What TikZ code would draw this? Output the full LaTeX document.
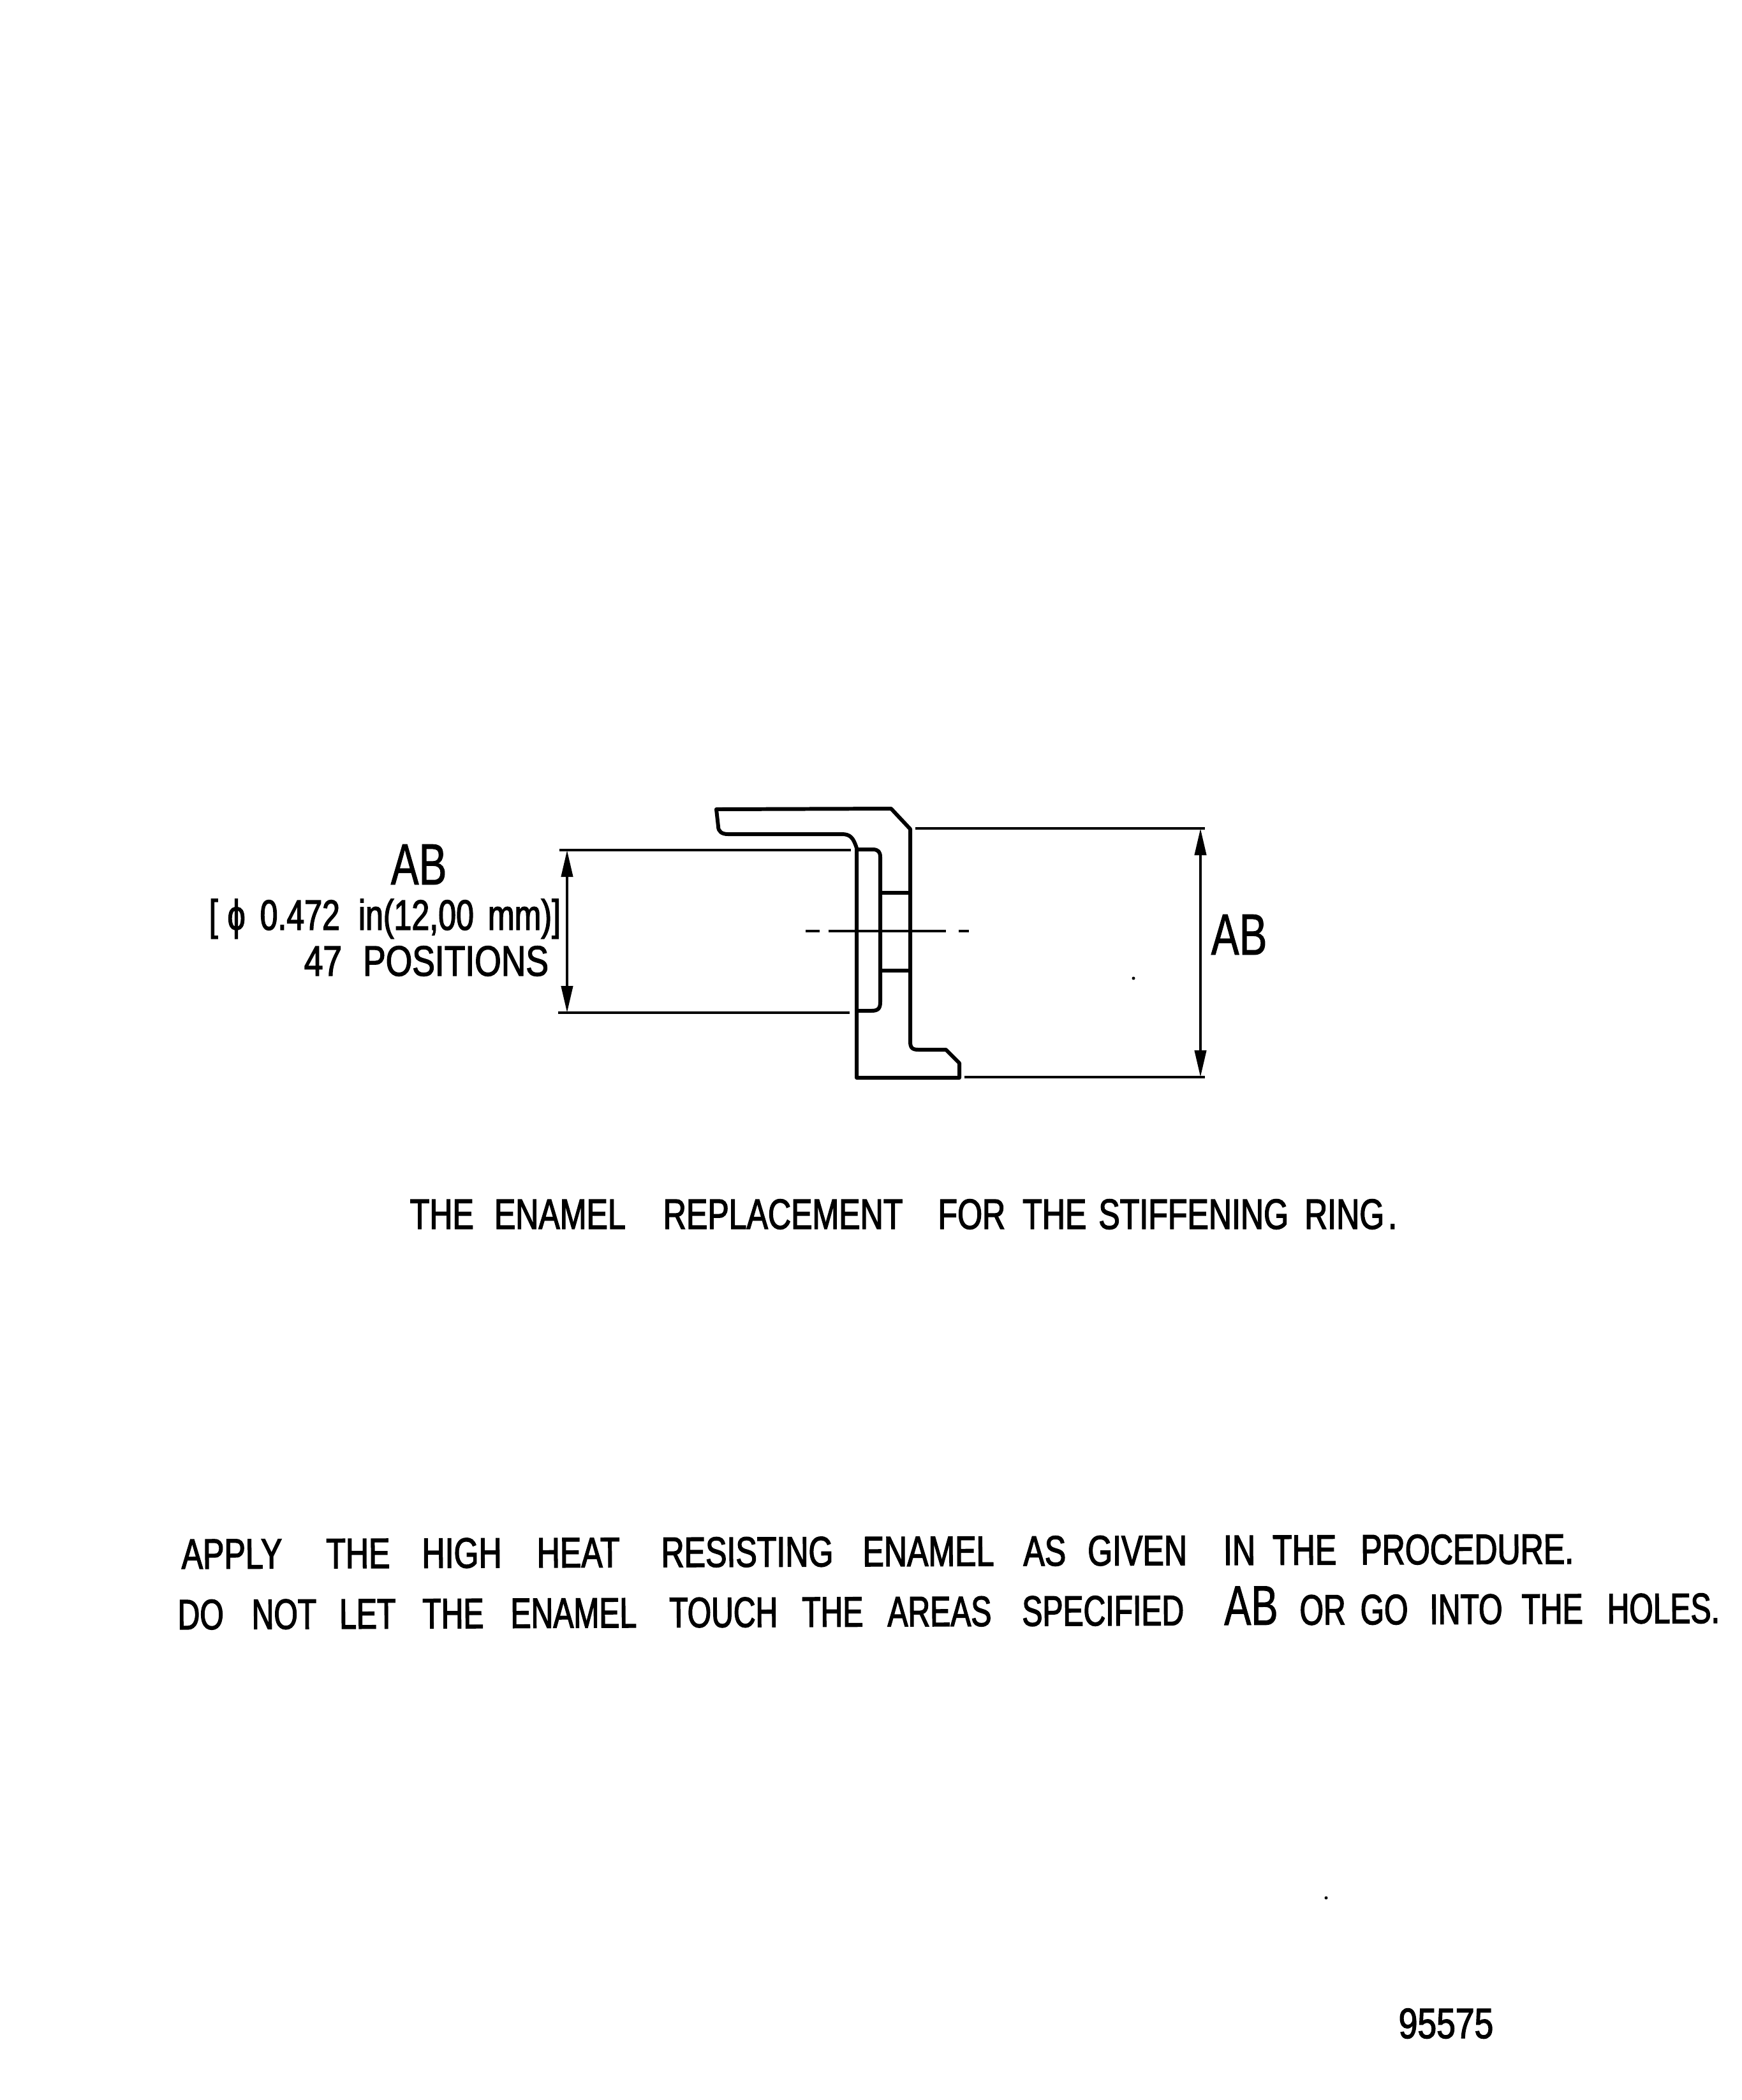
\documentclass[tikz,border=0pt]{standalone}
\usepackage{fontspec}
\usetikzlibrary{arrows.meta}
\newfontfamily\notefont[FakeStretch=0.72,FakeBold=2]{Liberation Sans}
\newfontfamily\capfont[FakeStretch=0.75,FakeBold=2]{Liberation Sans}
\newfontfamily\widefont[FakeStretch=0.8,FakeBold=2]{Liberation Sans}
\newfontfamily\markfont[FakeStretch=0.72,FakeBold=1]{Liberation Sans}
\newcommand{\nudge}[1]{\kern#1cm\relax}
\tikzset{
  part/.style={line width=1.7pt, line join=round},
  dimline/.style={line width=1.2pt},
  basetext/.style={inner sep=0pt, anchor=base west, execute at begin node={\spaceskip=#1\relax}},
  notetext/.style={basetext=#1, font=\notefont\fontsize{19}{19}\selectfont},
  captext/.style={basetext=#1, font=\capfont\fontsize{19}{19}\selectfont},
  widetext/.style={basetext=#1, font=\widefont\fontsize{19}{19}\selectfont},
  marktext/.style={font=\markfont\fontsize{26}{26}\selectfont, inner sep=0pt, anchor=base west},
}
\begin{document}
\begin{tikzpicture}[y=-1cm, >={Triangle[length=0.42cm,width=0.18cm]}]
  \useasboundingbox (0,0) rectangle (27.3,32.93);
  \coordinate (lefttop) at (8.89,13.33);
  \coordinate (leftbot) at (8.89,15.88);
  \coordinate (righttop) at (18.82,12.99);
  \coordinate (rightbot) at (18.82,16.89);
  % the ring section
  \draw [part] (11.23,12.69) -- (13.97,12.68) -- (14.27,13.00) -- (14.27,16.33)
    .. controls (14.27,16.43) and (14.30,16.46) .. (14.40,16.46) -- (14.83,16.46)
    -- (15.04,16.67) -- (15.04,16.90) -- (13.43,16.90) -- (13.43,13.30)
    .. controls (13.38,13.14) and (13.33,13.08) .. (13.20,13.08) -- (11.41,13.08)
    .. controls (11.32,13.08) and (11.26,13.04) .. (11.26,12.96) -- cycle;
  \draw [part] (13.43,13.32) -- (13.68,13.32) .. controls (13.77,13.32) and (13.80,13.36) .. (13.80,13.44)
    -- (13.80,15.71) .. controls (13.80,15.81) and (13.77,15.85) .. (13.66,15.85) -- (13.43,15.85);
  \draw [part] (13.80,14.00) -- (14.27,14.00);
  \draw [part] (13.80,15.22) -- (14.27,15.22);
  % centre line
  \draw [dimline, dash pattern=on .22cm off .135cm on 1.845cm off .2cm on .155cm] (12.63,14.60) -- (15.185,14.60);
  % dimensions
  \draw [dimline] (8.77,13.33) to (13.34,13.33);
  \draw [dimline] (8.75,15.88) to (13.32,15.88);
  \draw [dimline] (14.35,12.99) to (18.89,12.99);
  \draw [dimline] (15.12,16.89) to (18.89,16.89);
  \draw [dimline, <->] (lefttop) to (leftbot);
  \draw [dimline, <->] (righttop) to (rightbot);
  % labels
  \node [marktext] (ableft) at (6.12,13.87) {AB};
  \node [marktext] (abright) at (18.98,14.97) {AB};
  \node [captext=.22cm] (dia) at (3.27,14.58) {[\nudge{-.07} ϕ\nudge{.01} 0.472\nudge{.07} in(12,00 mm)]};
  \node [widetext=.33cm] (positions) at (4.76,15.30) {47 POSITIONS};
  \node [captext=.33cm] (caption) at (6.42,19.27) {THE\nudge{-.01} ENAMEL\nudge{.26} REPLACEMENT\nudge{.22} FOR\nudge{-.06} THE\nudge{-.14} STIFFENING\nudge{-.08} RING\nudge{-.27} .};
  \node [captext=.42cm, rotate=0.21] (applyline) at (2.84,24.60) {APPLY\nudge{.27} THE\nudge{.08} HIGH\nudge{.13} HEAT\nudge{.23} RESISTING\nudge{.04} ENAMEL\nudge{.04} AS\nudge{-.08} GIVEN\nudge{.15} IN\nudge{-.15} THE\nudge{-.04} PROCEDURE.};
  \node [notetext=.40cm, rotate=0.24] (touchline) at (2.78,25.55) {DO\nudge{.04} NOT\nudge{-.04} LET\nudge{.02} THE\nudge{.02} ENAMEL\nudge{.11} TOUCH\nudge{-.02} THE\nudge{-.02} AREAS\nudge{.08} SPECIFIED\nudge{.23} {\markfont\fontsize{25}{25}\selectfont AB}\nudge{-.06} OR\nudge{-.17} GO\nudge{-.06} INTO\nudge{-.10} THE\nudge{-.02} HOLES.};
  \node [widetext=.3cm] (drawno) at (21.92,31.96) {95575};
  % specks on the sheet
  \fill (17.77,15.34) circle[radius=.025];
  \fill (20.79,29.76) circle[radius=.025];
\end{tikzpicture}
\end{document}
